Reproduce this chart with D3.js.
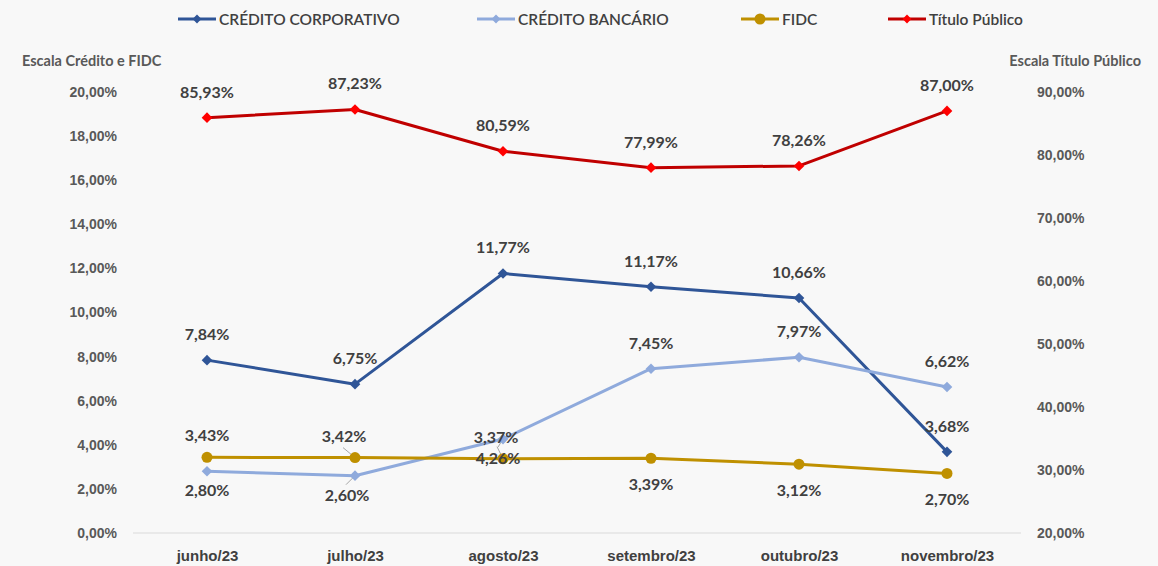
<!DOCTYPE html>
<html><head><meta charset="utf-8">
<script src="https://cdn.jsdelivr.net/npm/d3@7"></script>
<style>
html,body{margin:0;padding:0;background:#f8f8f8;}
svg{display:block;font-family:Lato,"Open Sans",sans-serif;}
</style></head>
<body><svg id="c" width="1158" height="566"></svg>
<script>
const months = ["junho/23","julho/23","agosto/23","setembro/23","outubro/23","novembro/23"];
const creditoCorporativo = [7.84, 6.75, 11.77, 11.17, 10.66, 3.68];
const creditoBancario = [2.80, 2.60, 4.26, 7.45, 7.97, 6.62];
const fidc = [3.43, 3.42, 3.37, 3.39, 3.12, 2.70];
const tituloPublico = [85.93, 87.23, 80.59, 77.99, 78.26, 87.00];
const leftTicks = [0,2,4,6,8,10,12,14,16,18,20];
const rightTicks = [20,30,40,50,60,70,80,90];
// label placement: 1 = above, -1 = below
const ccPos = [1,1,1,1,1,1];
const cbPos = [-1,-1,-1,1,1,1];
const fidcPos = [1,1,1,-1,-1,-1];
const tpPos = [1,1,1,1,1,1];

const svg = d3.select("#c");
const x = d3.scalePoint().domain(months).range([207, 947]);
const yL = d3.scaleLinear().domain([0,20]).range([533,92]);
const yR = d3.scaleLinear().domain([20,90]).range([533,92]);
const fmt = v => d3.format(".2f")(v).replace(".", ",") + "%";

// axis line
svg.append("line").attr("x1",133).attr("x2",1021).attr("y1",yL(0)).attr("y2",yL(0))
  .attr("stroke","#d9d9d9").attr("stroke-width",1.2);

// left axis
const axL = d3.axisLeft(yL).tickValues(leftTicks).tickSize(0).tickPadding(0).tickFormat(fmt);
const gL = svg.append("g").attr("transform","translate(117,0)").call(axL);
gL.select(".domain").remove();
gL.selectAll("text").attr("fill","#595959").attr("font-size",14).attr("font-weight",700);
const axR = d3.axisRight(yR).tickValues(rightTicks).tickSize(0).tickPadding(0).tickFormat(fmt);
const gR = svg.append("g").attr("transform","translate(1037,0)").call(axR);
gR.select(".domain").remove();
gR.selectAll("text").attr("fill","#595959").attr("font-size",14).attr("font-weight",700);

// bottom axis
const axB = d3.axisBottom(x).tickSize(0);
const gB = svg.append("g").attr("transform",`translate(0,${yL(0)})`).call(axB);
gB.select(".domain").remove();
gB.selectAll("text").attr("fill","#404040").attr("font-size",15).attr("font-weight",700).attr("dy",0).attr("y",28);

// axis titles
svg.append("text").attr("x",22).attr("y",65.5).text("Escala Crédito e FIDC")
  .attr("fill","#595959").attr("font-size",14.5).attr("font-weight",700);
svg.append("text").attr("x",1141).attr("y",65.5).attr("text-anchor","end").text("Escala Título Público")
  .attr("fill","#595959").attr("font-size",14.5).attr("font-weight",700);

const series = [
  {name:"CRÉDITO CORPORATIVO", vals:creditoCorporativo, y:yL, color:"#2F5597", mcolor:"#2F5597", marker:"diamond", pos:ccPos, up:-20, down:30},
  {name:"CRÉDITO BANCÁRIO", vals:creditoBancario, y:yL, color:"#8FAADC", mcolor:"#8FAADC", marker:"diamond", pos:cbPos, up:-20, down:25},
  {name:"FIDC", vals:fidc, y:yL, color:"#BF9000", mcolor:"#BF9000", marker:"circle", pos:fidcPos, up:-16, down:32},
  {name:"Título Público", vals:tituloPublico, y:yR, color:"#C00000", mcolor:"#FF0000", marker:"diamond", pos:tpPos, up:-20, down:30}
];
// horizontal nudges for crowded labels [series, index, dx]
const nudges = [[2,1,-11],[1,1,-8],[2,2,-7],[1,2,-5]];

// leader lines for crowded labels
const leaders = [
  {s:2,i:1, dx:-12, dy:-10},
  {s:1,i:1, dx:-9, dy:9},
  {s:2,i:2, dx:-6, dy:-12},
  {s:1,i:2, dx:-5, dy:8}
];

function marker(g, type, cx, cy, color, size){
  if(type==="circle"){
    g.append("circle").attr("cx",cx).attr("cy",cy).attr("r",size/2+0.5).attr("fill",color);
  } else {
    g.append("path").attr("d",d3.symbol(d3.symbolDiamond2, size*size*0.5)())
      .attr("transform",`translate(${cx},${cy})`).attr("fill",color);
  }
}

const line = (s) => d3.line().x((d,i)=>x(months[i])).y(d=>s.y(d));
series.forEach(s=>{
  svg.append("path").datum(s.vals).attr("d",line(s)).attr("fill","none")
    .attr("stroke",s.color).attr("stroke-width",3).attr("stroke-linejoin","round");
});
leaders.forEach(l=>{
  const s = series[l.s];
  const cx = x(months[l.i]), cy = s.y(s.vals[l.i]);
  svg.append("line").attr("x1",cx).attr("y1",cy).attr("x2",cx+l.dx).attr("y2",cy+l.dy)
    .attr("stroke","#a6a6a6").attr("stroke-width",1);
});
series.forEach(s=>{
  const g = svg.append("g");
  s.vals.forEach((v,i)=>{
    marker(g, s.marker, x(months[i]), s.y(v), s.mcolor, s.marker==="circle"?10:12);
  });
});
// labels
series.forEach((s,k)=>{
  s.vals.forEach((v,i)=>{
    const cy = s.y(v);
    const n = nudges.find(d=>d[0]===k && d[1]===i);
    svg.append("text").attr("x",x(months[i]) + (n ? n[2] : 0)).attr("y", cy + (s.pos[i]>0 ? s.up : s.down))
      .attr("text-anchor","middle").attr("fill","#404040").attr("font-size",16).attr("font-weight",700)
      .text(fmt(v));
  });
});

// legend
const legX = [178, 477, 741, 888];
series.forEach((s,k)=>{
  const g = svg.append("g").attr("transform",`translate(${legX[k]},19)`);
  g.append("line").attr("x1",0).attr("x2",38).attr("y1",0).attr("y2",0).attr("stroke",s.color).attr("stroke-width",3);
  marker(g, s.marker, 19, 0, s.mcolor, s.marker==="circle"?10:10);
  g.append("text").attr("x",41).attr("y",5.5).text(s.name).attr("fill","#404040").attr("font-size",15.5).attr("font-weight",600);
});
</script></body></html>
